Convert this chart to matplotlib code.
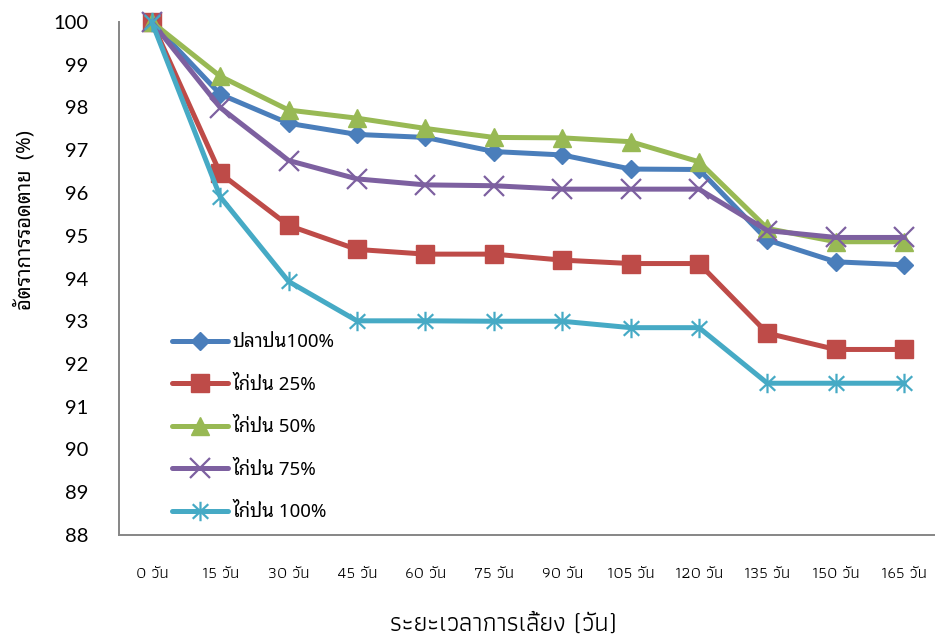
import matplotlib
matplotlib.use("Agg")
import matplotlib.pyplot as plt
from matplotlib import font_manager
from matplotlib.path import Path

# ---- data -------------------------------------------------------------
days = ["0 วัน", "15 วัน", "30 วัน", "45 วัน", "60 วัน", "75 วัน",
        "90 วัน", "105 วัน", "120 วัน", "135 วัน", "150 วัน", "165 วัน"]

fish_100 = [100, 98.31, 97.63, 97.37, 97.30, 96.97, 96.89, 96.56, 96.55, 94.90, 94.39, 94.32]
chicken_25 = [100, 96.46, 95.24, 94.68, 94.57, 94.57, 94.43, 94.35, 94.35, 92.72, 92.34, 92.34]
chicken_50 = [100, 98.73, 97.94, 97.75, 97.51, 97.30, 97.29, 97.20, 96.73, 95.17, 94.86, 94.86]
chicken_75 = [100, 98.00, 96.76, 96.33, 96.19, 96.17, 96.09, 96.09, 96.09, 95.12, 94.96, 94.96]
chicken_100 = [100, 95.91, 93.93, 93.01, 93.01, 93.00, 93.00, 92.85, 92.85, 91.55, 91.55, 91.55]

series_labels = ["ปลาป่น100%", "ไก่ป่น 25%", "ไก่ป่น 50%", "ไก่ป่น 75%", "ไก่ป่น 100%"]
y_ticks = list(range(88, 101))

# ---- fonts --------------------------------------------------------------
installed = {f.name for f in font_manager.fontManager.ttflist}


def pick(*names):
    for n in names:
        if n in installed:
            return [n, "DejaVu Sans"]
    return ["DejaVu Sans"]


looped_font = pick("Noto Sans Thai Looped", "IBM Plex Sans Thai Looped", "Sarabun", "Niramit")
narrow_font = pick("Athiti", "Anuphan", "Noto Sans Thai")
number_font = pick("Lato", "Open Sans")
plt.rcParams["font.family"] = looped_font

# Asterisk-style marker: vertical bar plus a cross
star_path = Path(
    [(0, -1), (0, 1), (-0.8, -0.75), (0.8, 0.75), (-0.8, 0.75), (0.8, -0.75)],
    [Path.MOVETO, Path.LINETO, Path.MOVETO, Path.LINETO, Path.MOVETO, Path.LINETO],
)

# ---- figure -----------------------------------------------------------------
fig = plt.figure(figsize=(9.35, 6.38), dpi=100)
ax = fig.add_axes([119 / 935, 1 - 535 / 638, 816 / 935, (535 - 22) / 638])

x = list(range(len(days)))
styles = [
    (fish_100, "#4A7EBB", dict(marker="D", ms=9)),
    (chicken_25, "#BE4B48", dict(marker="s", ms=13)),
    (chicken_50, "#98B954", dict(marker="^", ms=13)),
    (chicken_75, "#7D60A0", dict(marker="x", ms=14, mew=1.6)),
    (chicken_100, "#46AAC5", dict(marker=star_path, ms=14, mew=1.6)),
]
for (vals, color, mk), label in zip(styles, series_labels):
    ax.plot(x, vals, color=color, lw=3.6, label=label, clip_on=False,
            solid_capstyle="round", solid_joinstyle="round",
            mfc=color, mec=color, **mk)

ax.set_xlim(-0.48, 11.45)
ax.set_ylim(88, 100)
ax.set_yticks(y_ticks)
ax.set_yticklabels([str(v) for v in y_ticks], fontsize=14.5, family=number_font)
ax.set_xticks(x)
ax.set_xticklabels(days, fontsize=12, family=narrow_font)
ax.tick_params(axis="both", length=0)
ax.tick_params(axis="y", pad=22)
ax.tick_params(axis="x", pad=23)

for side in ("top", "right"):
    ax.spines[side].set_visible(False)
for side in ("left", "bottom"):
    ax.spines[side].set_color("#868686")
    ax.spines[side].set_linewidth(1.4)

fig.text(503 / 935, 1 - 625 / 638, "ระยะเวลาการเลี้ยง (วัน)", ha="center", va="center",
         fontsize=18.5, family=narrow_font)
fig.text(25 / 935, 1 - 220 / 638, "อัตราการรอดตาย  (%)", ha="center", va="center",
         rotation=90, fontsize=14.5, family=looped_font)

leg = ax.legend(loc="center left", bbox_to_anchor=(0.065, 0.21), frameon=False,
                fontsize=13.5, handlelength=3.0, labelspacing=1.3, handletextpad=0.25,
                borderaxespad=0, borderpad=0)

fig.savefig("out.png", dpi=100, facecolor="white")
